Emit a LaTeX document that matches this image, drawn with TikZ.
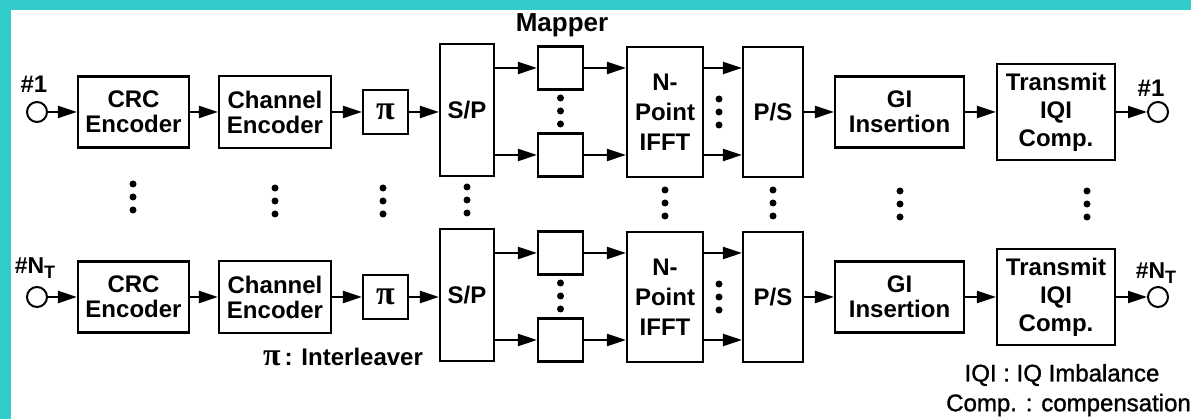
\documentclass[tikz,border=0pt]{standalone}
\usepackage{fontspec}
\setmainfont{Liberation Sans}
\newfontfamily\pifont{Liberation Serif}
\newfontfamily\notefont[FakeBold=1.2]{Liberation Sans}
\usetikzlibrary{arrows.meta}
\definecolor{framecol}{HTML}{33CCCC}
\begin{document}
\begin{tikzpicture}[x=1pt,y=-1pt,
  box/.style={draw, line width=2.2pt, inner sep=0pt, align=center,
    font=\bfseries\fontsize{24}{25}\selectfont},
  arr/.style={line width=2pt, -{Triangle[length=19pt,width=12pt]}},
  dotn/.style={circle, fill, inner sep=0pt, minimum size=7pt},
  port/.style={circle, draw, line width=2pt, inner sep=0pt, minimum size=20pt},
  lbl/.style={inner sep=0pt, font=\bfseries\fontsize{24}{25}\selectfont},
  note/.style={inner sep=0pt, font=\notefont\fontsize{24}{25}\selectfont},
  pibox/.style={font=\pifont\bfseries\fontsize{34}{34}\selectfont}]
\fill[framecol] (0,0) rectangle (1191,419);
\fill[white] (11,10) rectangle (1191,419);
\useasboundingbox (0,0) rectangle (1191,419);

\foreach \r/\ry in {1/112,2/297}{
  \node[port] (in\r) at (37,\ry) {};
  \node[box, minimum width=111pt, minimum height=71pt] (crc\r) at (133.5,\ry) {CRC\\Encoder};
  \node[box, minimum width=112pt, minimum height=72pt] (ch\r) at (275,\ry) {Channel\\Encoder};
  \node[box, pibox, minimum width=45pt, minimum height=44pt] (pi\r) at (385.5,\ry) {π};
  \node[box, minimum width=54pt, minimum height=132pt] (sp\r) at (467,\ry-2) {S/P};
  \node[box, minimum width=45pt, minimum height=43pt] (ma\r) at (560.5,\ry-44) {};
  \node[box, minimum width=45pt, minimum height=43pt] (mb\r) at (560.5,\ry+43) {};
  \node[box, minimum width=76pt, minimum height=130pt,
    font=\bfseries\fontsize{24}{30}\selectfont] (ifft\r) at (665,\ry) {N-\\Point\\IFFT};
  \node[box, minimum width=60pt, minimum height=130pt] (ps\r) at (773,\ry) {P/S};
  \node[box, minimum width=129pt, minimum height=71pt] (gi\r) at (899.5,\ry) {GI\\Insertion};
  \node[box, minimum width=118pt, minimum height=96pt,
    font=\bfseries\fontsize{24}{28}\selectfont] (tx\r) at (1056,\ry) {Transmit\\IQI\\Comp.};
  \node[port] (out\r) at (1158,\ry) {};

  \draw[arr] (in\r) -- (crc\r);
  \draw[arr] (crc\r) -- (ch\r);
  \draw[arr] (ch\r) -- (pi\r);
  \draw[arr] (pi\r) -- (sp\r.west |- pi\r.east);
  \draw[arr] (sp\r.east |- ma\r.west) -- (ma\r);
  \draw[arr] (sp\r.east |- mb\r.west) -- (mb\r);
  \draw[arr] (ma\r) -- (ifft\r.west |- ma\r.east);
  \draw[arr] (mb\r) -- (ifft\r.west |- mb\r.east);
  \draw[arr] (ifft\r.east |- ma\r.east) -- (ps\r.west |- ma\r.east);
  \draw[arr] (ifft\r.east |- mb\r.east) -- (ps\r.west |- mb\r.east);
  \draw[arr] (ps\r) -- (gi\r);
  \draw[arr] (gi\r) -- (tx\r);
  \draw[arr] (tx\r) -- (out\r);

  \foreach \k/\dy in {1/-14,2/-1,3/12}{
    \node[dotn] (md\r\k) at (560.5,\ry+\dy) {};
    \node[dotn] (fd\r\k) at (719,\ry+\dy+1) {};
  }
}

% vertical ellipses between the two rows
\foreach \c/\x/\y in {a/133/184,b/275/188,c/383/188,d/467/187,e/665/190,f/773/190,g/900/191,h/1087/191}{
  \foreach \k in {0,1,2}{
    \node[dotn] (v\c\k) at (\x,\y+13*\k) {};
  }
}

\node[lbl] (lin1) at (34,84) {\#1};
\node[lbl, font=\bfseries\fontsize{23}{25}\selectfont] (lin2) at (35,268)
  {\#N\raisebox{-5pt}{\fontsize{18}{18}\selectfont T}};
\node[lbl] (lout1) at (1151,88) {\#1};
\node[lbl, font=\bfseries\fontsize{23}{25}\selectfont] (lout2) at (1156,273)
  {\#N\raisebox{-5pt}{\fontsize{18}{18}\selectfont T}};
\node[lbl, font=\bfseries\fontsize{26}{26}\selectfont] (mapper) at (562,25) {Mapper};
\node[lbl] (pilab) at (343,357) {{\pifont\bfseries\fontsize{32}{32}\selectfont π}\,: Interleaver};
\node[note] (iqi) at (1062,375) {IQI : IQ Imbalance};
\node[note, anchor=east] (comp) at (1191,405) {Comp. : compensation};
\end{tikzpicture}
\end{document}
